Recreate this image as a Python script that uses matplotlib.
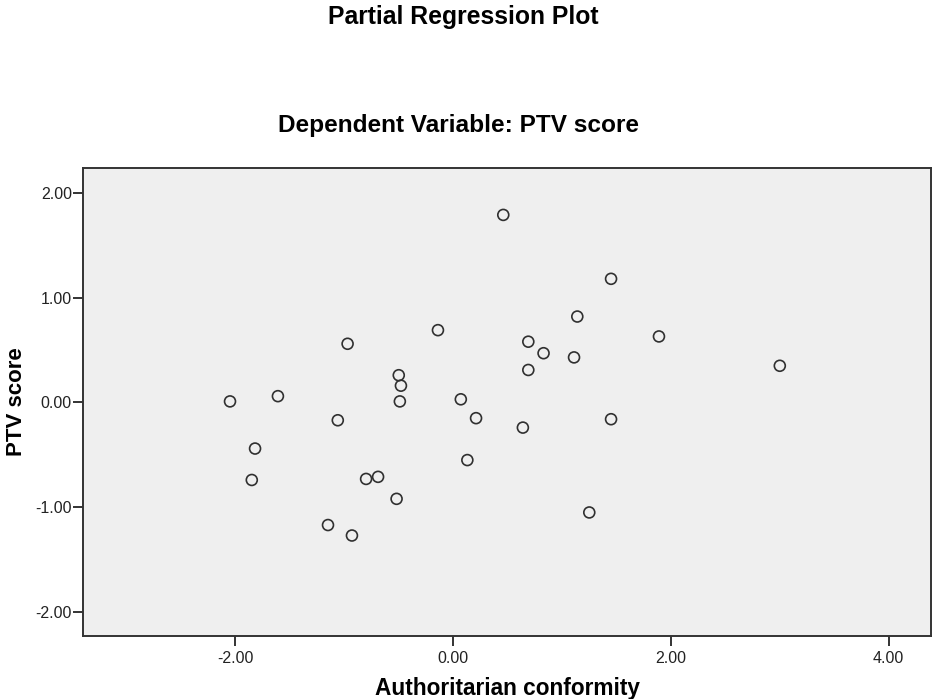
import matplotlib
matplotlib.use("Agg")
import matplotlib.pyplot as plt

plt.rcParams["font.family"] = ["Liberation Sans", "DejaVu Sans"]

# Partial residuals: authoritarian conformity (x) vs PTV score (y)
conformity = [-2.05, -1.61, -1.82, -1.85, -1.06, -0.97, -0.80, -0.69, -1.15, -0.93,
              -0.50, -0.48, -0.49, -0.52, -0.14, 0.46, 0.07, 0.21, 0.64, 0.13,
              0.69, 0.69, 0.83, 1.14, 1.11, 1.45, 1.45, 1.25, 1.89, 3.00]
ptv_score = [0.01, 0.06, -0.44, -0.74, -0.17, 0.56, -0.73, -0.71, -1.17, -1.27,
             0.26, 0.16, 0.01, -0.92, 0.69, 1.79, 0.03, -0.15, -0.24, -0.55,
             0.58, 0.31, 0.47, 0.82, 0.43, 1.18, -0.16, -1.05, 0.63, 0.35]

x_ticks = [-2, 0, 2, 4]
y_ticks = [-2, -1, 0, 1, 2]

fig = plt.figure(figsize=(9.33, 6.99), dpi=100)
ax = fig.add_axes([0.089, 0.090, 0.909, 0.670])
ax.set_facecolor("#efefef")

ax.scatter(conformity, ptv_score, s=62, facecolors="none",
           edgecolors="#303030", linewidths=1.2, zorder=3)

ax.set_xlim(-3.40, 4.39)
ax.set_ylim(-2.23, 2.24)
ax.set_xticks(x_ticks)
ax.set_yticks(y_ticks)
ax.set_xticklabels([f"{v:.2f}" for v in x_ticks])
ax.set_yticklabels([f"{v:.2f}" for v in y_ticks])

for side in ["top", "right", "bottom", "left"]:
    ax.spines[side].set_color("#333333")
    ax.spines[side].set_linewidth(1.4)
ax.tick_params(axis="both", direction="out", length=7, width=1.4,
               colors="#333333", labelsize=11.5, labelcolor="#222222")
ax.tick_params(axis="x", pad=4)
ax.tick_params(axis="y", pad=1)

ax.set_xlabel("Authoritarian conformity", fontsize=16.3, fontweight="bold", labelpad=8)
ax.set_ylabel("PTV score", fontsize=16, fontweight="bold", labelpad=6)

fig.text(0.497, 0.975, "Partial Regression Plot", ha="center", va="center",
         fontsize=17.8, fontweight="bold")
fig.text(0.491, 0.821, "Dependent Variable: PTV score", ha="center", va="center",
         fontsize=17.6, fontweight="bold")

fig.savefig("out.png", dpi=100, facecolor="white")
